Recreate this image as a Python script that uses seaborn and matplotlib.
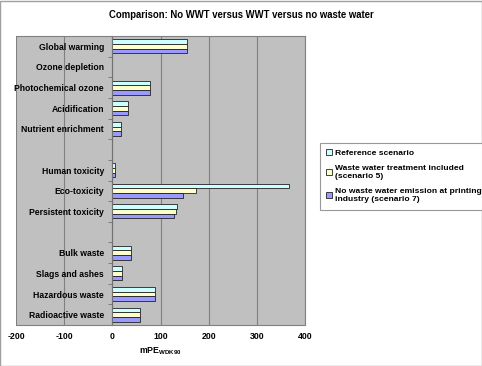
import numpy as np
import pandas as pd
import seaborn as sns
import matplotlib
matplotlib.use("Agg")
import matplotlib.pyplot as plt
from matplotlib.patches import Rectangle, Patch

categories = ["Global warming", "Ozone depletion", "Photochemical ozone", "Acidification",
              "Nutrient enrichment", " ", "Human toxicity", "Eco-toxicity", "Persistent toxicity",
              "  ", "Bulk waste", "Slags and ashes", "Hazardous waste", "Radioactive waste"]
reference = [155, 0, 78, 32, 19, np.nan, 5, 367, 135, np.nan, 38, 21, 88, 57]
wwt_included = [155, 0, 78, 32, 19, np.nan, 5, 174, 132, np.nan, 38, 21, 88, 57]
no_wastewater = [155, 0, 78, 32, 18, np.nan, 5, 146, 128, np.nan, 38, 21, 88, 57]
series_names = ["Reference scenario",
                "Waste water treatment included\n(scenario 5)",
                "No waste water emission at printing\nindustry (scenario 7)"]
colors = ["#CCFFFF", "#FFFFCC", "#9999FF"]
xticks = [-200, -100, 0, 100, 200, 300, 400]

rows = []
for name, vals in zip(series_names, [reference, wwt_included, no_wastewater]):
    for c, v in zip(categories, vals):
        rows.append({"category": c, "value": v, "scenario": name})
df = pd.DataFrame(rows).dropna()

plt.rcParams["font.family"] = ["Liberation Sans", "DejaVu Sans"]
plt.rcParams["mathtext.fontset"] = "custom"
plt.rcParams["mathtext.rm"] = "Liberation Sans"
plt.rcParams["mathtext.bf"] = "Liberation Sans:bold"

fig = plt.figure(figsize=(4.82, 3.66), dpi=100)
fig.patch.set_facecolor("white")
ax = fig.add_axes([16/482, 1-325/366, (305-16)/482, (325-36)/366])
ax.set_facecolor("#C0C0C0")

sns.barplot(data=df, y="category", x="value", hue="scenario", order=categories,
            hue_order=series_names, palette=colors, width=0.68, orient="h",
            edgecolor="#222222", linewidth=0.6, ax=ax, legend=False, errorbar=None,
            saturation=1)

ax.set_xlim(-200, 400)
ax.set_ylim(len(categories) - 0.5, -0.5)
ax.set_xticks(xticks)
ax.set_xticklabels([str(t) for t in xticks], fontsize=6.3, fontweight="bold")
ax.tick_params(axis="x", length=0, pad=5)
ax.grid(axis="x", color="#808080", linewidth=0.8)
ax.set_axisbelow(True)

ax.spines["left"].set_position(("data", 0))
ax.spines["left"].set_color("#707070")
ax.spines["left"].set_linewidth(0.8)
for s in ["top", "right", "bottom"]:
    ax.spines[s].set_color("#808080")
    ax.spines[s].set_linewidth(0.8)

ax.set_yticks(range(len(categories)))
ax.set_yticklabels(categories, fontsize=6.2, fontweight="bold")
ax.tick_params(axis="y", which="major", length=0, pad=6)
ax.set_yticks(np.arange(-0.5, len(categories) + 0.5, 1), minor=True)
ax.tick_params(axis="y", which="minor", length=3, color="#707070", direction="out")
ax.set_ylabel("")
ax.set_xlabel(r"$\mathbf{mPE}_{\mathbf{WDK90}}$", fontsize=6.3, labelpad=3)

fig.text(0.5, 1-15/366, "Comparison: No WWT versus WWT versus no waste water",
         ha="center", va="center", fontsize=6.85, fontweight="bold")

handles = [Patch(facecolor=c, edgecolor="#222222", linewidth=0.6) for c in colors]
leg = fig.legend(handles, series_names, loc="upper left", bbox_to_anchor=(320/482, 1-143/366),
                 frameon=True, fancybox=False, edgecolor="#808080",
                 handlelength=0.7, handleheight=0.7, handletextpad=0.3, labelspacing=0.95,
                 borderpad=0.75, borderaxespad=0, prop={"weight": "bold", "size": 6.1})
leg.get_frame().set_linewidth(0.8)

fig.patches.append(Rectangle((0.001, 0.001), 0.998, 0.997, transform=fig.transFigure,
                             fill=False, edgecolor="#A0A0A0", linewidth=1))

fig.savefig("out.png", dpi=100)
